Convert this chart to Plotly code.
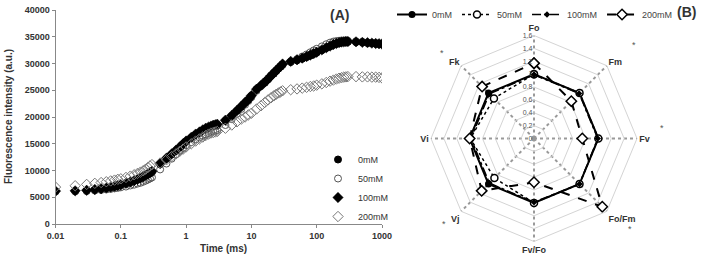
import plotly.graph_objects as go

# ---------------- data: OJIP transients (panel A) ----------------
time_ms = [0.01, 0.02, 0.03, 0.04, 0.05, 0.06, 0.07, 0.08, 0.09, 0.10,
           0.12, 0.14, 0.16, 0.18, 0.20, 0.22, 0.24, 0.26, 0.28, 0.30,
           0.4, 0.5, 0.6, 0.7, 0.8, 0.9, 1.0,
           1.2, 1.4, 1.6, 1.8, 2.0, 2.2, 2.4, 2.6, 2.8, 3.0,
           4, 5, 6, 7, 8, 9, 10,
           12, 14, 16, 18, 20, 22, 24, 26, 28, 30,
           40, 50, 60, 70, 80, 90, 100,
           120, 140, 160, 180, 200, 220, 240, 260, 280, 300,
           400, 500, 600, 700, 800, 900, 1000]

f_0mM = [6100, 6150, 6250, 6400, 6550, 6700, 6850, 7000, 7150, 7300,
         7550, 7800, 8050, 8300, 8550, 8800, 9050, 9300, 9500, 9700,
         11200, 12200, 13000, 13700, 14300, 14900, 15400,
         16100, 16700, 17100, 17500, 17800, 18000, 18200, 18350, 18450, 18550,
         19300, 20200, 21150, 21900, 22650, 23200, 23950,
         25200, 25800, 26400, 27050, 27700, 28100, 28600, 29050, 29400, 29850,
         30300, 30600, 30900, 31200, 31500, 31800, 32050,
         32500, 32900, 33200, 33500, 33700, 33850, 33950, 34000, 34050, 34050,
         34000, 33950, 33850, 33800, 33700, 33650, 33600]

f_50mM = [6050, 6100, 6150, 6250, 6350, 6450, 6550, 6650, 6750, 6850,
          7000, 7200, 7350, 7550, 7700, 7900, 8100, 8300, 8500, 8700,
          10200, 11300, 12200, 13000, 13700, 14200, 14700,
          15300, 15800, 16200, 16500, 16750, 17000, 17200, 17350, 17450, 17550,
          18500, 19600, 20600, 21500, 22300, 23000, 23700,
          24900, 25800, 26600, 27200, 27800, 28300, 28700, 29100, 29400, 29700,
          30300, 30800, 31300, 31700, 32100, 32450, 32750,
          33200, 33600, 33900, 34100, 34200, 34250, 34300, 34300, 34300, 34250,
          34150, 34050, 33950, 33850, 33800, 33700, 33650]

f_100mM = [6150, 6200, 6300, 6450, 6600, 6750, 6900, 7050, 7200, 7350,
           7600, 7850, 8100, 8350, 8600, 8850, 9100, 9350, 9600, 9850,
           11300, 12300, 13100, 13800, 14400, 15000, 15500,
           16200, 16800, 17200, 17600, 17900, 18100, 18300, 18450, 18550, 18650,
           19400, 20300, 21200, 22000, 22700, 23300, 24000,
           25200, 25900, 26500, 27100, 27700, 28200, 28700, 29100, 29500, 29900,
           30400, 30700, 31000, 31300, 31600, 31850, 32100,
           32550, 32950, 33250, 33550, 33750, 33900, 34000, 34050, 34100, 34100,
           34050, 33950, 33900, 33800, 33750, 33700, 33650]

f_200mM = [6900, 7150, 7400, 7600, 7750, 7900, 8050, 8200, 8350, 8450,
           8700, 8950, 9200, 9450, 9700, 9950, 10250, 10550, 10850, 11100,
           11400, 12000, 12600, 13100, 13600, 14000, 14400,
           15000, 15500, 15900, 16250, 16550, 16800, 17000, 17100, 17200, 17300,
           17900, 18500, 19100, 19600, 20000, 20400, 20700,
           21500, 22100, 22700, 23200, 23600, 23950, 24250, 24500, 24700, 24900,
           25100, 25250, 25400, 25550, 25700, 25800, 25950,
           26200, 26450, 26700, 26900, 27100, 27250, 27350, 27450, 27500, 27550,
           27550, 27500, 27500, 27450, 27450, 27400, 27300]

y_ticks = [0, 5000, 10000, 15000, 20000, 25000, 30000, 35000, 40000]
x_ticks = [0.01, 0.1, 1, 10, 100, 1000]
x_ticklabels = ["0.01", "0.1", "1", "10", "100", "1000"]

# ---------------- data: radar of JIP parameters (panel B) ----------------
params = ["Fo", "Fm", "Fv", "Fo/Fm", "Fv/Fo", "Vj", "Vi", "Fk"]
r_0mM = [1.0, 1.0, 1.0, 1.0, 1.0, 1.0, 1.0, 1.0]
r_50mM = [1.0, 1.0, 1.0, 1.0, 1.0, 0.87, 0.99, 0.88]
r_100mM = [0.99, 0.99, 0.99, 1.0, 0.99, 0.98, 0.98, 0.98]
r_200mM = [1.17, 0.82, 0.75, 1.5, 0.68, 1.15, 1.0, 1.14]
r_ticks = [0, 0.2, 0.4, 0.6, 0.8, 1.0, 1.2, 1.4, 1.6]
labels = ["0mM", "50mM", "100mM", "200mM"]

W, H = 703, 254
FONT = "Liberation Sans, Arial, sans-serif"
TXT = "#333333"

fig = go.Figure()

# ---- panel A scatter ----
styles_a = [
    dict(symbol="circle", size=7, color="black", line=dict(color="black", width=1)),
    dict(symbol="circle-open", size=7, color="#555555", line=dict(width=1)),
    dict(symbol="diamond", size=8, color="black", line=dict(color="black", width=0.5)),
    dict(symbol="diamond-open", size=8, color="#777777", line=dict(width=1)),
]
for name, ys, st in zip(labels, [f_0mM, f_50mM, f_100mM, f_200mM], styles_a):
    fig.add_trace(go.Scatter(
        x=time_ms, y=ys, mode="markers", name=name, marker=st,
        xaxis="x", yaxis="y", legend="legend", showlegend=True))

# ---- panel B radar ----
styles_b = [
    dict(line=dict(color="black", width=2, dash="solid"),
         marker=dict(symbol="circle", size=7, color="black")),
    dict(line=dict(color="black", width=1.5, dash="dot"),
         marker=dict(symbol="circle", size=7, color="white", line=dict(color="black", width=1.5))),
    dict(line=dict(color="black", width=1.5, dash="dashdot"),
         marker=dict(symbol="diamond", size=5, color="black")),
    dict(line=dict(color="black", width=2, dash="dash"),
         marker=dict(symbol="diamond", size=8, color="white", line=dict(color="black", width=1.5))),
]
for name, rs, st in zip(labels, [r_0mM, r_50mM, r_100mM, r_200mM], styles_b):
    fig.add_trace(go.Scatterpolar(
        r=rs + rs[:1], theta=params + params[:1], mode="lines+markers",
        name=name, subplot="polar", legend="legend2", **st))

# geometry (pixels -> paper)
ax_l, ax_r, ax_t, ax_b = 55.5, 382.0, 10.0, 224.0
cx, cy, rad = 534.0, 138.5, 103.0

fig.update_layout(
    width=W, height=H,
    margin=dict(l=0, r=0, t=0, b=0, autoexpand=False),
    paper_bgcolor="white", plot_bgcolor="white",
    font=dict(family=FONT, color=TXT),
    xaxis=dict(
        type="log", range=[-2, 3],
        domain=[ax_l / W, ax_r / W],
        tickvals=x_ticks, ticktext=x_ticklabels,
        ticks="outside", ticklen=3, tickcolor="#888888",
        showline=True, linecolor="#888888", linewidth=1,
        showgrid=False, zeroline=False,
        tickfont=dict(size=9, weight="bold", color=TXT),
        automargin=False,
    ),
    yaxis=dict(
        range=[0, 40000],
        domain=[1 - ax_b / H, 1 - ax_t / H],
        tickvals=y_ticks, tickformat="d",
        ticks="outside", ticklen=3, tickcolor="#888888",
        showline=True, linecolor="#888888", linewidth=1,
        showgrid=False, zeroline=False,
        tickfont=dict(size=9, weight="bold", color=TXT),
        automargin=False,
    ),
    polar=dict(
        domain=dict(x=[(cx - rad) / W, (cx + rad) / W],
                    y=[1 - (cy + rad) / H, 1 - (cy - rad) / H]),
        bgcolor="white",
        gridshape="linear",
        radialaxis=dict(
            range=[0, 1.6], tickvals=r_ticks, angle=90,
            showline=False, ticks="", showgrid=True,
            gridcolor="#d4d4d4", gridwidth=1,
            tickfont=dict(size=7, color="#555555"),
            tickangle=90, side="counterclockwise",
        ),
        angularaxis=dict(
            direction="clockwise", rotation=90,
            showline=True, linecolor="#d4d4d4", linewidth=1,
            showgrid=True, gridcolor="#999999", gridwidth=1.5, griddash="dot",
            ticks="", tickfont=dict(size=9, weight="bold", color=TXT),
        ),
    ),
    legend=dict(
        x=318 / W, y=1 - 145 / H, xanchor="left", yanchor="top",
        bgcolor="rgba(0,0,0,0)", font=dict(size=9, color=TXT),
        tracegroupgap=0, itemwidth=30,
    ),
    legend2=dict(
        orientation="h", x=392 / W, y=1.0, xanchor="left", yanchor="top",
        bgcolor="rgba(0,0,0,0)", font=dict(size=9, color="#444444"),
        itemwidth=30,
    ),
    showlegend=True,
)

ann = [
    dict(text="<b>(A)</b>", x=339 / W, y=1 - 15 / H, size=14),
    dict(text="<b>(B)</b>", x=686 / W, y=1 - 12 / H, size=14),
    dict(text="<b>Time (ms)</b>", x=((ax_l + ax_r) / 2 + 5) / W, y=1 - 248 / H, size=10),
]
for a in ann:
    fig.add_annotation(text=a["text"], x=a["x"], y=a["y"], xref="paper", yref="paper",
                       showarrow=False, font=dict(size=a["size"], color=TXT, family=FONT),
                       xanchor="center", yanchor="middle")
fig.add_annotation(text="<b>Fluorescence intensity (a.u.)</b>", x=8 / W, y=1 - 117 / H,
                   xref="paper", yref="paper", showarrow=False, textangle=-90,
                   font=dict(size=10, color=TXT, family=FONT),
                   xanchor="center", yanchor="middle")
# significance asterisks on panel B
for (px, py) in [(634, 45), (662, 128), (630, 229), (444, 224), (442, 53)]:
    fig.add_annotation(text="*", x=px / W, y=1 - py / H, xref="paper", yref="paper",
                       showarrow=False, font=dict(size=9, color="#555555", family=FONT),
                       xanchor="center", yanchor="middle")

fig.write_html("out.html")
